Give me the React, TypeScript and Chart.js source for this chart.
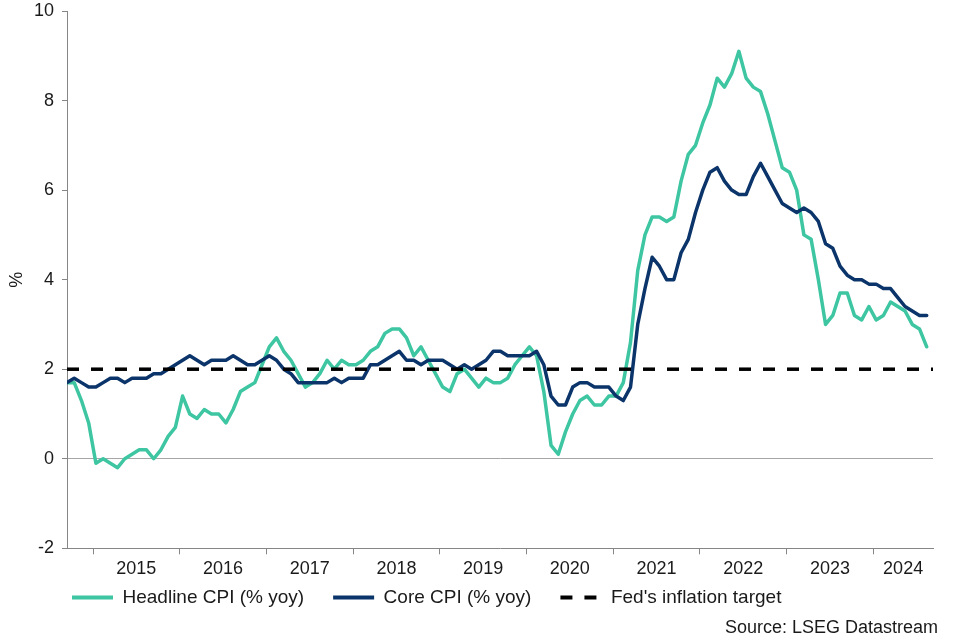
import React, { useEffect, useRef } from 'react';
import { Chart, registerables } from 'chart.js';

Chart.register(...registerables);

// ---------- data (monthly, Sep 2014 – Aug 2024) ----------
const yearLabels = ['2015', '2016', '2017', '2018', '2019', '2020', '2021', '2022', '2023', '2024'];

const headlineCPI = [
  1.7, 1.7, 1.3, 0.8,
  -0.1, 0.0, -0.1, -0.2, 0.0, 0.1, 0.2, 0.2, 0.0, 0.2, 0.5, 0.7,
  1.4, 1.0, 0.9, 1.1, 1.0, 1.0, 0.8, 1.1, 1.5, 1.6, 1.7, 2.1,
  2.5, 2.7, 2.4, 2.2, 1.9, 1.6, 1.7, 1.9, 2.2, 2.0, 2.2, 2.1,
  2.1, 2.2, 2.4, 2.5, 2.8, 2.9, 2.9, 2.7, 2.3, 2.5, 2.2, 1.9,
  1.6, 1.5, 1.9, 2.0, 1.8, 1.6, 1.8, 1.7, 1.7, 1.8, 2.1, 2.3,
  2.5, 2.3, 1.5, 0.3, 0.1, 0.6, 1.0, 1.3, 1.4, 1.2, 1.2, 1.4,
  1.4, 1.7, 2.6, 4.2, 5.0, 5.4, 5.4, 5.3, 5.4, 6.2, 6.8, 7.0,
  7.5, 7.9, 8.5, 8.3, 8.6, 9.1, 8.5, 8.3, 8.2, 7.7, 7.1, 6.5,
  6.4, 6.0, 5.0, 4.9, 4.0, 3.0, 3.2, 3.7, 3.7, 3.2, 3.1, 3.4,
  3.1, 3.2, 3.5, 3.4, 3.3, 3.0, 2.9, 2.5,
];

const coreCPI = [
  1.7, 1.8, 1.7, 1.6,
  1.6, 1.7, 1.8, 1.8, 1.7, 1.8, 1.8, 1.8, 1.9, 1.9, 2.0, 2.1,
  2.2, 2.3, 2.2, 2.1, 2.2, 2.2, 2.2, 2.3, 2.2, 2.1, 2.1, 2.2,
  2.3, 2.2, 2.0, 1.9, 1.7, 1.7, 1.7, 1.7, 1.7, 1.8, 1.7, 1.8,
  1.8, 1.8, 2.1, 2.1, 2.2, 2.3, 2.4, 2.2, 2.2, 2.1, 2.2, 2.2,
  2.2, 2.1, 2.0, 2.1, 2.0, 2.1, 2.2, 2.4, 2.4, 2.3, 2.3, 2.3,
  2.3, 2.4, 2.1, 1.4, 1.2, 1.2, 1.6, 1.7, 1.7, 1.6, 1.6, 1.6,
  1.4, 1.3, 1.6, 3.0, 3.8, 4.5, 4.3, 4.0, 4.0, 4.6, 4.9, 5.5,
  6.0, 6.4, 6.5, 6.2, 6.0, 5.9, 5.9, 6.3, 6.6, 6.3, 6.0, 5.7,
  5.6, 5.5, 5.6, 5.5, 5.3, 4.8, 4.7, 4.3, 4.1, 4.0, 4.0, 3.9,
  3.9, 3.8, 3.8, 3.6, 3.4, 3.3, 3.2, 3.2,
];

const fedTarget = 2;

const seriesNames = ['Headline CPI (% yoy)', 'Core CPI (% yoy)', "Fed's inflation target"];
const yAxisTitle = '%';
const sourceNote = 'Source: LSEG Datastream';

// ---------- styling ----------
const FONT = '"Liberation Sans", Arial, Helvetica, sans-serif';
const TEXT = '#1a1a1a';
const AXIS = '#868686';
const ZERO = '#a6a6a6';
const TEAL = '#3dc6a1';
const NAVY = '#0b356a';

const X_MAX = 119.87;
const FIRST_BOUNDARY = 3.6;
const LEGEND_LEFT = 43;
const LEGEND_TOP = 559;
const boundaries = yearLabels.map((_, k) => FIRST_BOUNDARY + 12 * k);
const centers = boundaries.map((b, k) => (b + (k + 1 < boundaries.length ? boundaries[k + 1] : X_MAX)) / 2);
const isBoundary = (v: number) => boundaries.some((b) => Math.abs(b - v) < 1e-6);

const sourcePlugin = {
  id: 'sourceNote',
  afterDraw(chart: any) {
    const { ctx } = chart;
    ctx.save();
    ctx.font = `18px ${FONT}`;
    ctx.fillStyle = TEXT;
    ctx.textAlign = 'right';
    ctx.textBaseline = 'alphabetic';
    ctx.fillText(sourceNote, 938, 633);
    ctx.restore();
  },
};

const legendPlacePlugin = {
  id: 'legendPlace',
  afterLayout(chart: any) {
    const lg = chart.legend;
    if (!lg) return;
    const h = lg.height;
    lg.left = LEGEND_LEFT;
    lg.width = lg.right - LEGEND_LEFT;
    lg.top = LEGEND_TOP;
    lg.bottom = LEGEND_TOP + h;
  },
};

export default function App() {
  const ref = useRef<HTMLCanvasElement | null>(null);

  useEffect(() => {
    document.body.style.margin = '0';
    Chart.defaults.font.family = FONT;
    const canvas = ref.current;
    if (!canvas) return;

    const chart = new Chart(canvas, {
      type: 'line',
      data: {
        datasets: [
          {
            label: seriesNames[0],
            data: headlineCPI.map((v, i) => ({ x: i, y: v })),
            borderColor: TEAL,
            backgroundColor: TEAL,
            borderWidth: 3.5,
            pointRadius: 0,
            tension: 0,
            borderJoinStyle: 'round',
            borderCapStyle: 'round',
            order: 3,
          },
          {
            label: seriesNames[1],
            data: coreCPI.map((v, i) => ({ x: i, y: v })),
            borderColor: NAVY,
            backgroundColor: NAVY,
            borderWidth: 3.5,
            pointRadius: 0,
            tension: 0,
            borderJoinStyle: 'round',
            borderCapStyle: 'round',
            order: 2,
          },
          {
            label: seriesNames[2],
            data: [
              { x: 0, y: fedTarget },
              { x: X_MAX, y: fedTarget },
            ],
            borderColor: '#000000',
            backgroundColor: '#000000',
            borderWidth: 3.5,
            borderDash: [12, 12],
            pointRadius: 0,
            tension: 0,
            order: 1,
          },
        ],
      },
      options: {
        animation: false,
        responsive: false,
        devicePixelRatio: 1,
        events: [],
        layout: { padding: { left: 0, right: 27, top: 11, bottom: 0 } },
        plugins: {
          tooltip: { enabled: false },
          legend: {
            display: true,
            position: 'bottom',
            align: 'start',
            labels: {
              usePointStyle: true,
              pointStyleWidth: 41,
              padding: 29,
              color: TEXT,
              font: { size: 19 },
              generateLabels: (c: any) =>
                c.data.datasets.map((ds: any, i: number) => ({
                  text: ds.label,
                  fillStyle: ds.borderColor,
                  strokeStyle: ds.borderColor,
                  lineWidth: 4,
                  lineDash: ds.borderDash || [],
                  lineCap: 'butt',
                  pointStyle: 'line',
                  hidden: false,
                  datasetIndex: i,
                  fontColor: TEXT,
                })),
            },
          },
        },
        scales: {
          x: {
            type: 'linear',
            min: 0,
            max: X_MAX,
            afterBuildTicks: (s: any) => {
              s.ticks = [...boundaries, ...centers].sort((a, b) => a - b).map((v) => ({ value: v }));
            },
            afterFit: (s: any) => {
              s.height = 32.7;
              s.paddingLeft = 0;
              s.paddingRight = 0;
            },
            ticks: {
              autoSkip: false,
              maxRotation: 0,
              minRotation: 0,
              padding: 4,
              color: TEXT,
              font: { size: 18 },
              callback: (v: any) => {
                const k = centers.findIndex((c) => Math.abs(c - Number(v)) < 1e-6);
                return k >= 0 ? yearLabels[k] : '';
              },
            },
            grid: {
              display: true,
              drawOnChartArea: false,
              drawTicks: true,
              tickLength: 6,
              tickWidth: 1,
              tickColor: (ctx: any) => (ctx.tick && isBoundary(ctx.tick.value) ? AXIS : 'rgba(0,0,0,0)'),
            },
            border: { display: true, color: AXIS, width: 1 },
          },
          y: {
            type: 'linear',
            min: -2,
            max: 10,
            afterFit: (s: any) => {
              s.width = 67;
              s.paddingTop = 0;
              s.paddingBottom = 0;
            },
            ticks: { stepSize: 2, padding: 8, color: TEXT, font: { size: 18 } },
            grid: {
              display: true,
              drawOnChartArea: true,
              drawTicks: true,
              tickLength: 5,
              color: (ctx: any) => (ctx.tick && ctx.tick.value === 0 ? ZERO : 'rgba(0,0,0,0)'),
              tickColor: AXIS,
            },
            border: { display: true, color: AXIS, width: 1 },
            title: {
              display: true,
              text: yAxisTitle,
              color: TEXT,
              font: { size: 18 },
              padding: { top: 6, bottom: 0 },
            },
          },
        },
      },
      plugins: [legendPlacePlugin, sourcePlugin],
    } as any);

    return () => chart.destroy();
  }, []);

  return (
    <div style={{ width: 960, height: 639 }}>
      <canvas ref={ref} width={960} height={639} style={{ display: 'block' }} />
    </div>
  );
}
